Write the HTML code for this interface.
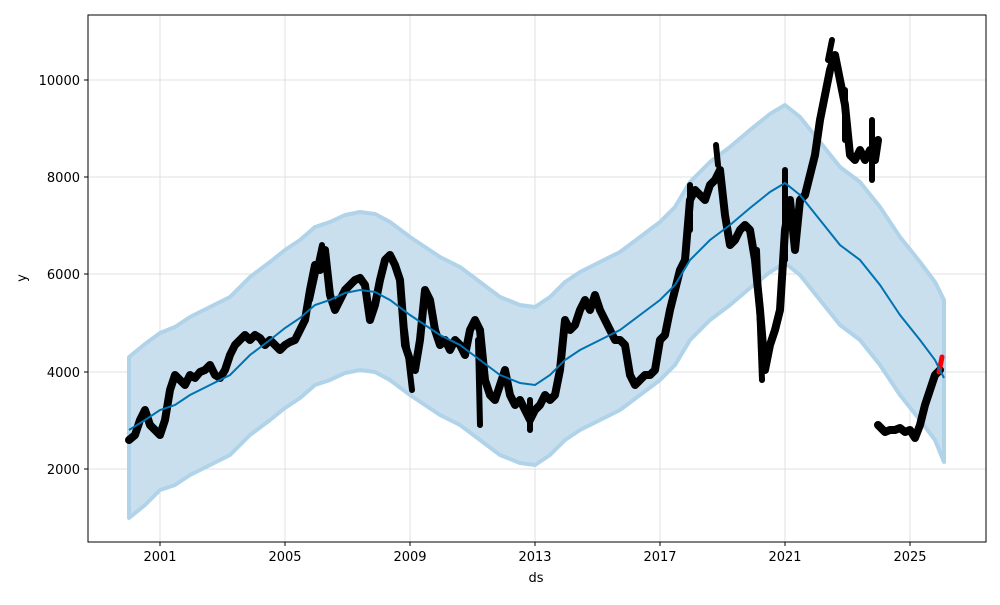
<!DOCTYPE html>
<html><head><meta charset="utf-8"><style>
body{margin:0;background:#fff;}
svg text{font-family:"DejaVu Sans","Liberation Sans",sans-serif;font-size:13px;fill:#000;}
</style></head><body>
<svg width="1000" height="600" xmlns="http://www.w3.org/2000/svg">
<rect width="1000" height="600" fill="#fff"/>
<g stroke="#e0e0e0" stroke-width="1">
<line x1="160" y1="15" x2="160" y2="542"/><line x1="285" y1="15" x2="285" y2="542"/><line x1="410" y1="15" x2="410" y2="542"/><line x1="535" y1="15" x2="535" y2="542"/><line x1="660" y1="15" x2="660" y2="542"/><line x1="785" y1="15" x2="785" y2="542"/><line x1="910" y1="15" x2="910" y2="542"/>
<line x1="88" y1="80" x2="986" y2="80"/><line x1="88" y1="177" x2="986" y2="177"/><line x1="88" y1="274" x2="986" y2="274"/><line x1="88" y1="372" x2="986" y2="372"/><line x1="88" y1="469" x2="986" y2="469"/>
</g>
<polygon fill="#c9dfee" stroke="#b0d3e9" stroke-width="4" stroke-linejoin="round" points="129,357 145,344 160,333 175,327 190,317 210,307 230,297 250,277 270,262 285,250 300,240 315,227 330,222 345,215 360,212 375,214 390,222 410,237 425,247 440,257 460,267 480,282 500,297 520,305 535,307 550,297 565,282 580,272 600,262 620,252 640,237 660,222 675,207 690,182 710,162 730,147 750,130 770,114 785,105 800,117 820,142 840,167 860,182 880,207 900,237 920,262 935,282 944,300 944,462 935,440 920,420 900,395 880,365 860,340 840,325 820,300 800,275 785,263 770,272 750,288 730,305 710,320 690,340 675,365 660,380 640,395 620,410 600,420 580,430 565,440 550,455 535,465 520,463 500,455 480,440 460,425 440,415 425,405 410,395 390,380 375,372 360,370 345,373 330,380 315,385 300,398 285,408 270,420 250,435 230,455 210,465 190,475 175,485 160,490 145,505 129,518"/>
<g fill="none" stroke="#000" stroke-width="8" stroke-linejoin="round" stroke-linecap="round">
<polyline points="129,440 135,435 140,420 145,410 150,425 155,430 160,435 165,420 170,390 175,375 180,380 185,385 190,375 195,378 200,372 205,370 210,365 215,375 220,378 225,370 230,355 235,345 240,340 245,335 250,340 255,335 260,338 265,345 270,340 275,345 280,350 285,345 290,342 295,340 300,330 305,320 310,290 315,265 320,270 325,250 330,295 335,310 340,300 345,290 350,285 355,280 360,278 365,285 370,320 375,305 380,280 385,260 390,255 395,265 400,280 405,345 410,360 415,370 420,340 425,290 430,300 435,330 440,345 445,340 450,350 455,340 460,345 465,355 470,330 475,320 480,330 485,380 490,395 495,400 500,385 505,370 510,395 515,405 520,400 525,410 530,420 535,410 540,405 545,395 550,400 555,395 560,370 565,320 570,330 575,325 580,310 585,300 590,310 595,295 600,310 605,320 610,330 615,340 620,340 625,345 630,375 635,385 640,380 645,375 650,375 655,370 660,340 665,335 670,310 675,290 680,270 685,260 690,200 695,190 700,195 705,200 710,185 715,180 720,170 725,215 730,245 735,240 740,230 745,225 750,230 755,260 760,310 765,370 770,345 775,330 780,310 785,230 790,200 795,250 800,200 805,195 810,175 815,155 820,120 825,95 830,70 835,55 840,80 845,105 850,155 855,160 860,150 865,160 870,150 875,160 878,140"/>
<polyline points="878,425 885,432 890,430 895,430 900,428 905,432 910,430 915,438 920,425 925,405 930,390 935,375 940,370"/>
</g>
<g fill="none" stroke="#000" stroke-width="6" stroke-linecap="round">
<line x1="310" y1="300" x2="322" y2="245"/><line x1="405" y1="330" x2="412" y2="390"/><line x1="690" y1="230" x2="690" y2="185"/><line x1="718" y1="165" x2="716" y2="145"/><line x1="757" y1="250" x2="762" y2="380"/><line x1="785" y1="260" x2="785" y2="170"/><line x1="828" y1="60" x2="832" y2="40"/><line x1="845" y1="90" x2="845" y2="140"/><line x1="872" y1="120" x2="872" y2="180"/><line x1="478" y1="340" x2="480" y2="425"/><line x1="530" y1="400" x2="530" y2="430"/>
</g>
<polyline fill="none" stroke="#ff0000" stroke-width="5" stroke-linecap="round" points="939,372 941,362 942,357"/>
<polyline fill="none" stroke="#0072b2" stroke-width="2" points="129,430 145,420 160,410 175,405 190,395 210,385 230,375 250,355 270,340 285,328 300,318 315,305 330,300 345,293 360,290 375,292 390,300 410,315 425,325 440,335 460,345 480,360 500,375 520,383 535,385 550,375 565,360 580,350 600,340 620,330 640,315 660,300 675,285 690,260 710,240 730,225 750,208 770,192 785,183 800,195 820,220 840,245 860,260 880,285 900,315 920,340 935,360 944,378"/>
<rect x="88" y="15" width="898" height="527" fill="none" stroke="#000" stroke-width="1"/>
<g stroke="#000">
<line x1="160" y1="542" x2="160" y2="546"/><line x1="285" y1="542" x2="285" y2="546"/><line x1="410" y1="542" x2="410" y2="546"/><line x1="535" y1="542" x2="535" y2="546"/><line x1="660" y1="542" x2="660" y2="546"/><line x1="785" y1="542" x2="785" y2="546"/><line x1="910" y1="542" x2="910" y2="546"/>
<line x1="84" y1="80" x2="88" y2="80"/><line x1="84" y1="177" x2="88" y2="177"/><line x1="84" y1="274" x2="88" y2="274"/><line x1="84" y1="372" x2="88" y2="372"/><line x1="84" y1="469" x2="88" y2="469"/>
</g>
<g text-anchor="middle">
<text x="160" y="561">2001</text><text x="285" y="561">2005</text><text x="410" y="561">2009</text><text x="535" y="561">2013</text><text x="660" y="561">2017</text><text x="785" y="561">2021</text><text x="910" y="561">2025</text>
<text x="536" y="582">ds</text>
</g>
<g text-anchor="end">
<text x="80" y="85">10000</text><text x="80" y="182">8000</text><text x="80" y="279">6000</text><text x="80" y="377">4000</text><text x="80" y="474">2000</text>
</g>
<text x="26" y="278" text-anchor="middle" transform="rotate(-90 26 278)">y</text>
</svg>
</body></html>
